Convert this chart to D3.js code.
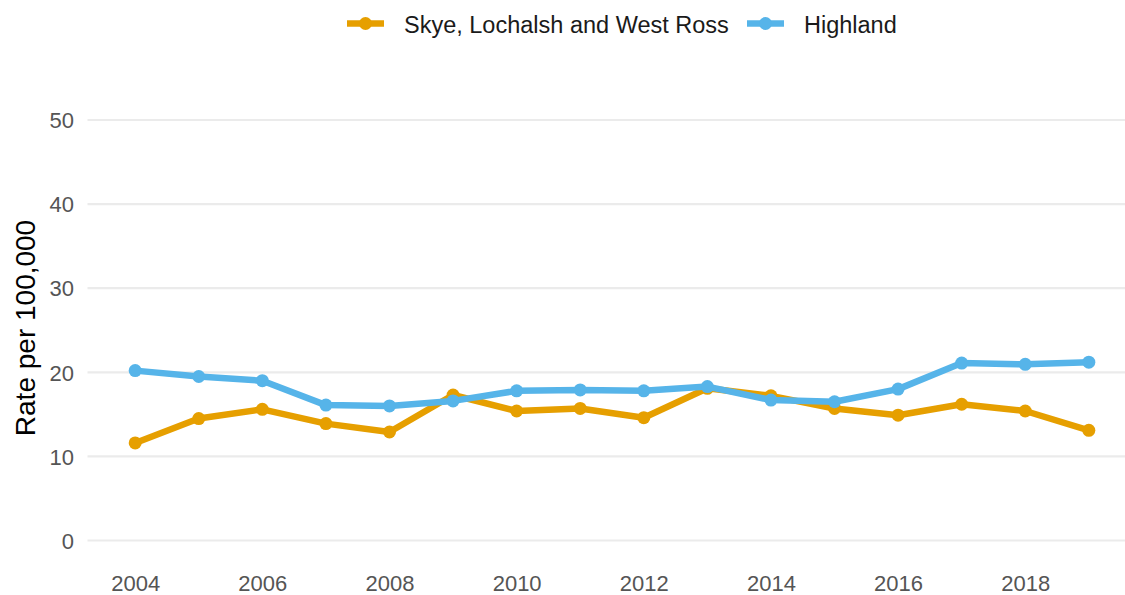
<!DOCTYPE html>
<html><head><meta charset="utf-8">
<script src="https://cdn.jsdelivr.net/npm/d3@7"></script>
<style>body{margin:0;background:#fff;} text{font-family:"Liberation Sans",Arial,sans-serif;}</style>
</head><body>
<svg id="c" width="1125" height="595"></svg>
<script>
const years = [2004,2005,2006,2007,2008,2009,2010,2011,2012,2013,2014,2015,2016,2017,2018,2019];
const skye = [11.6,14.5,15.6,13.9,12.9,17.3,15.4,15.7,14.6,18.1,17.2,15.7,14.9,16.2,15.4,13.1];
const highland = [20.2,19.5,19.0,16.1,16.0,16.6,17.8,17.9,17.8,18.3,16.7,16.5,18.0,21.1,20.95,21.2];
const seriesNames = ["Skye, Lochalsh and West Ross","Highland"];
const seriesColors = ["#E69F00","#56B4E9"];
const yTicks = [0,10,20,30,40,50];
const xTicks = [2004,2006,2008,2010,2012,2014,2016,2018];

const svg = d3.select("#c");
const x = d3.scaleLinear().domain([2003.25,2019.75]).range([87.5,1136.5]);
const y = d3.scaleLinear().domain([0,50]).range([540.5,120]);

// grid
svg.append("g").selectAll("line").data(yTicks).join("line")
  .attr("x1",87.5).attr("x2",1136.5)
  .attr("y1",d=>y(d)).attr("y2",d=>y(d))
  .attr("stroke","#EBEBEB").attr("stroke-width",2.2);

// y axis labels
const yAxis = d3.axisLeft(y).tickValues(yTicks).tickSize(0).tickPadding(0);
const gy = svg.append("g").attr("transform","translate(74,0)").call(yAxis);
gy.select(".domain").remove();
gy.selectAll("text").attr("fill","#555555").style("font-size","22px").attr("dy","0.35em").attr("x",0);

// x axis labels
const xAxis = d3.axisBottom(x).tickValues(xTicks).tickFormat(d3.format("d")).tickSize(0).tickPadding(0);
const gx = svg.append("g").attr("transform","translate(0,575)").call(xAxis);
gx.select(".domain").remove();
gx.selectAll("text").attr("fill","#555555").style("font-size","22px").attr("dy","0.71em");

// y title
svg.append("text").attr("transform","translate(35,328) rotate(-90)")
  .attr("text-anchor","middle").style("font-size","28px").attr("fill","#000")
  .text("Rate per 100,000");

const data = [skye, highland];
const line = d3.line().x((d,i)=>x(years[i])).y(d=>y(d));
data.forEach((vals,k)=>{
  const g = svg.append("g");
  g.append("path").datum(vals).attr("d",line).attr("fill","none")
    .attr("stroke",seriesColors[k]).attr("stroke-width",6.5).attr("stroke-linejoin","round");
  g.selectAll("circle").data(vals).join("circle")
    .attr("cx",(d,i)=>x(years[i])).attr("cy",d=>y(d)).attr("r",6.5).attr("fill",seriesColors[k]);
});

// legend
const legX = [347,747];
seriesNames.forEach((n,k)=>{
  const g = svg.append("g").attr("transform",`translate(${legX[k]},23.5)`);
  g.append("line").attr("x1",0).attr("x2",37).attr("y1",0).attr("y2",0)
    .attr("stroke",seriesColors[k]).attr("stroke-width",6.5);
  g.append("circle").attr("cx",18.5).attr("cy",0).attr("r",6.5).attr("fill",seriesColors[k]);
  g.append("text").attr("x",57).attr("y",1).attr("dy","0.35em")
    .style("font-size","23.5px").attr("fill","#1a1a1a").text(n);
});
</script>
</body></html>
